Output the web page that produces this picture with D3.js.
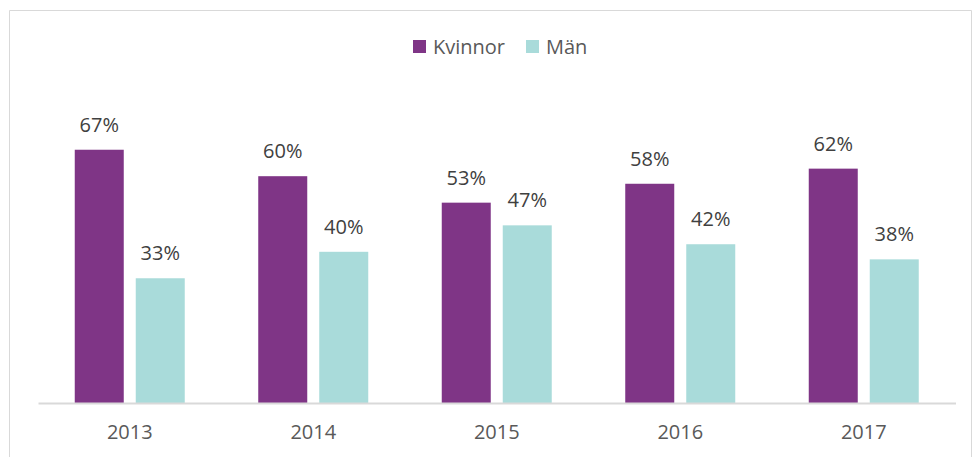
<!DOCTYPE html>
<html>
<head>
<meta charset="utf-8">
<script src="https://cdn.jsdelivr.net/npm/d3@7"></script>
<style>
  body { margin: 0; background: #fff; }
  svg { display: block; font-family: "Open Sans", sans-serif; }
</style>
</head>
<body>
<div id="chart"></div>
<script>
// Data
////////////////////////////////////////////////////////////////////
const years = ["2013", "2014", "2015", "2016", "2017"];
const seriesNames = ["Kvinnor", "Män"];
const kvinnor = [0.67, 0.60, 0.53, 0.58, 0.62];
const man = [0.33, 0.40, 0.47, 0.42, 0.38];
const colors = ["#7f3586", "#a9dbda"];

const rows = years.map((y, i) => ({ year: y, values: [kvinnor[i], man[i]] }));

// Dimensions
////////////////////////////////////////////////////////////////////
const width = 972;
const height = 457;
const plot = { left: 38, right: 955.5, top: 25, bottom: 403 };

const svg = d3
  .select("#chart")
  .append("svg")
  .attr("width", width)
  .attr("height", height);

// frame (top, left, right edges only visible)
svg
  .append("path")
  .attr("d", `M9.5,${height} V10.5 H971.5 V${height}`)
  .attr("fill", "none")
  .attr("stroke", "#d9d9d9")
  .attr("stroke-width", 1);

// Scales
////////////////////////////////////////////////////////////////////
const xScale = d3.scaleBand().domain(years).range([plot.left, plot.right]);

const barW = 49;
const gap = 12;
const inner = d3
  .scaleOrdinal()
  .domain([0, 1])
  .range([-(barW + gap / 2), gap / 2]);

const yScale = d3.scaleLinear().domain([0, 1]).range([plot.bottom, plot.top]);

// Bars
////////////////////////////////////////////////////////////////////
const groups = svg
  .selectAll("g.year")
  .data(rows)
  .join("g")
  .attr("class", "year")
  .attr("transform", (d) => `translate(${xScale(d.year) + xScale.bandwidth() / 2},0)`);

groups
  .selectAll("rect")
  .data((d) => d.values)
  .join("rect")
  .attr("x", (d, i) => inner(i))
  .attr("y", (d) => yScale(d))
  .attr("width", barW)
  .attr("height", (d) => yScale(0) - yScale(d))
  .attr("fill", (d, i) => colors[i]);

groups
  .selectAll("text")
  .data((d) => d.values)
  .join("text")
  .attr("x", (d, i) => inner(i) + barW / 2)
  .attr("y", (d) => yScale(d) - 18)
  .attr("text-anchor", "middle")
  .attr("font-size", 20)
  .attr("fill", "#404040")
  .text((d) => d3.format(".0%")(d));

// X axis
////////////////////////////////////////////////////////////////////
const xAxis = d3.axisBottom(xScale).tickSize(0).tickPadding(22);

const xAxisGroup = svg
  .append("g")
  .attr("transform", `translate(0,${plot.bottom})`)
  .call(xAxis);

xAxisGroup.select(".domain").attr("stroke", "#d9d9d9").attr("stroke-width", 2);
xAxisGroup
  .selectAll("text")
  .attr("font-family", "Open Sans, sans-serif")
  .attr("font-size", 20)
  .attr("fill", "#595959");

// Legend
////////////////////////////////////////////////////////////////////
const legendX = [413, 526];
const legend = svg
  .selectAll("g.legend")
  .data(seriesNames)
  .join("g")
  .attr("class", "legend")
  .attr("transform", (d, i) => `translate(${legendX[i]},40)`);

legend
  .append("rect")
  .attr("width", 13)
  .attr("height", 13)
  .attr("fill", (d, i) => colors[i]);

legend
  .append("text")
  .attr("x", 20)
  .attr("y", 14)
  .attr("font-size", 20)
  .attr("fill", "#595959")
  .text((d) => d);
</script>
</body>
</html>
